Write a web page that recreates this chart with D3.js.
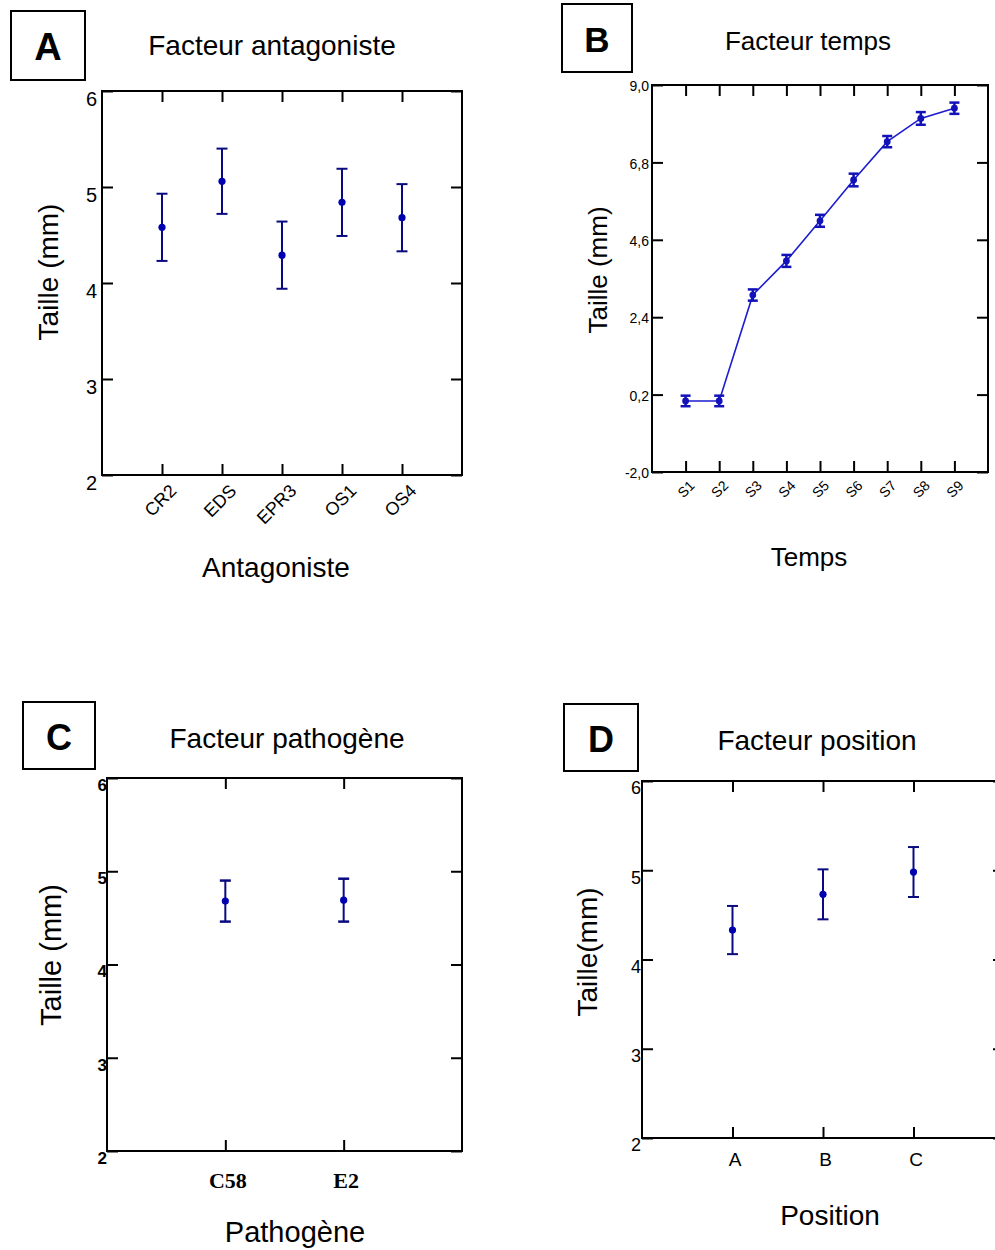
<!DOCTYPE html>
<html>
<head>
<meta charset="utf-8">
<script src="https://cdn.jsdelivr.net/npm/d3@7"></script>
<style>
  body { margin: 0; background: #fff; }
  svg { display: block; }
  text { font-family: "Liberation Sans", Arial, sans-serif; fill: #000; }
</style>
</head>
<body>
<script>
'use strict';

// --- data ---
const tailleTicks = [2, 3, 4, 5, 6];

const antagonistes = ["CR2", "EDS", "EPR3", "OS1", "OS4"];
const antagonisteMoy = [4.58, 5.06, 4.29, 4.84, 4.68];
const antagonisteErr = [0.35, 0.34, 0.35, 0.35, 0.35];

const temps = ["S1", "S2", "S3", "S4", "S5", "S6", "S7", "S8", "S9"];
const tempsMoy = [0.02, 0.02, 3.03, 4.0, 5.14, 6.3, 7.39, 8.05, 8.34];
const tempsErr = [0.15, 0.15, 0.16, 0.17, 0.17, 0.18, 0.16, 0.18, 0.16];
const tempsTicks = [-2.0, 0.2, 2.4, 4.6, 6.8, 9.0];

const pathogenes = ["C58", "E2"];
const pathogeneMoy = [4.68, 4.69];
const pathogeneErr = [0.22, 0.23];

const positions = ["A", "B", "C"];
const positionMoy = [4.33, 4.73, 4.98];
const positionErr = [0.27, 0.28, 0.28];

let svg = d3.select('body').append('svg')
  .attr('width', 995)
  .attr('height', 1250);

// draw one lettered panel with point + error bar plot
function drawPanel(p) {
  let g = svg.append('g');

  // letter box
  g.append('rect')
    .attr('x', p.box[0]).attr('y', p.box[1])
    .attr('width', p.box[2]).attr('height', p.box[3])
    .attr('fill', 'none').attr('stroke', '#000').attr('stroke-width', 2);
  g.append('text')
    .attr('x', p.box[0] + p.box[2] / 2)
    .attr('y', p.tagY)
    .attr('text-anchor', 'middle')
    .style('font-size', p.tagSize + 'px')
    .style('font-weight', 'bold')
    .text(p.tag);

  // title
  g.append('text')
    .attr('x', p.titleX).attr('y', p.titleY)
    .attr('text-anchor', 'middle')
    .style('font-size', p.titleSize + 'px')
    .text(p.title);

  let x = d3.scalePoint().domain(p.cats).range([p.l, p.r]).padding(1);
  let y = d3.scaleLinear().domain(p.yDomain).range([p.b, p.t]);

  // left axis with labels, ticks pointing inward
  let left = g.append('g')
    .attr('transform', 'translate(' + p.l + ',0)')
    .call(d3.axisLeft(y).tickValues(p.yTicks).tickSize(-p.tick)
      .tickPadding(p.yPad).tickFormat(p.yFormat));
  left.selectAll('text')
    .attr('dy', p.yDy)
    .style('font-size', p.yFont + 'px')
    .style('font-weight', p.yBold ? 'bold' : 'normal');

  // right axis, ticks only
  g.append('g')
    .attr('transform', 'translate(' + p.r + ',0)')
    .call(d3.axisRight(y).tickValues(p.yTicks).tickSize(-p.tick).tickFormat(''));

  // top axis, ticks only
  g.append('g')
    .attr('transform', 'translate(0,' + p.t + ')')
    .call(d3.axisTop(x).tickSize(-p.tick).tickFormat(''));

  // bottom axis
  let bottom = g.append('g')
    .attr('transform', 'translate(0,' + p.b + ')')
    .call(d3.axisBottom(x).tickSize(-p.tick).tickPadding(0));
  p.xLabelStyle(bottom.selectAll('text'), x);

  g.selectAll('.domain').remove();
  g.selectAll('.tick line').attr('stroke', '#000').attr('stroke-width', 2);
  g.selectAll('.tick text').style('fill', p.xColor ? null : '#000');

  // frame
  g.append('rect')
    .attr('x', p.l).attr('y', p.t)
    .attr('width', p.r - p.l).attr('height', p.b - p.t)
    .attr('fill', 'none').attr('stroke', '#000').attr('stroke-width', 2);

  let pts = p.cats.map((c, i) => ({ c: c, m: p.means[i], e: p.errs[i] }));

  // connecting line (time panel)
  if (p.line) {
    let line = d3.line().x(d => x(d.c)).y(d => y(d.m));
    g.append('path')
      .datum(pts)
      .attr('d', line)
      .attr('fill', 'none')
      .attr('stroke', p.lineColor)
      .attr('stroke-width', 1.6);
  }

  // error bars
  let bars = g.selectAll('.err').data(pts).enter().append('g');
  bars.append('line')
    .attr('x1', d => x(d.c)).attr('x2', d => x(d.c))
    .attr('y1', d => y(d.m + d.e)).attr('y2', d => y(d.m - d.e))
    .attr('stroke', p.barColor).attr('stroke-width', p.barWidth);
  bars.append('line')
    .attr('x1', d => x(d.c) - p.cap).attr('x2', d => x(d.c) + p.cap)
    .attr('y1', d => y(d.m + d.e)).attr('y2', d => y(d.m + d.e))
    .attr('stroke', p.barColor).attr('stroke-width', p.capWidth);
  bars.append('line')
    .attr('x1', d => x(d.c) - p.cap).attr('x2', d => x(d.c) + p.cap)
    .attr('y1', d => y(d.m - d.e)).attr('y2', d => y(d.m - d.e))
    .attr('stroke', p.barColor).attr('stroke-width', p.capWidth);
  bars.append('circle')
    .attr('cx', d => x(d.c)).attr('cy', d => y(d.m))
    .attr('r', p.dot)
    .attr('fill', p.dotColor);

  // axis titles
  g.append('text')
    .attr('transform', 'translate(' + p.yTitleX + ',' + p.yTitleY + ')rotate(-90)')
    .attr('text-anchor', 'middle')
    .style('font-size', p.axisSize + 'px')
    .text(p.yTitle);
  g.append('text')
    .attr('x', p.xTitleX).attr('y', p.xTitleY)
    .attr('text-anchor', 'middle')
    .style('font-size', p.axisSize + 'px')
    .text(p.xTitle);
}

// A - antagoniste
drawPanel({
  tag: 'A', box: [11, 11, 74, 69], tagY: 60, tagSize: 38,
  title: 'Facteur antagoniste', titleX: 272, titleY: 55, titleSize: 28,
  l: 102, t: 91, r: 462, b: 475, tick: 11,
  cats: antagonistes, means: antagonisteMoy, errs: antagonisteErr,
  yDomain: [2, 6], yTicks: tailleTicks, yFormat: d3.format('d'),
  yPad: 5, yDy: '0.72em', yFont: 20,
  xLabelStyle: function(sel, x) {
    sel.attr('y', null).attr('dy', null)
      .attr('text-anchor', 'end')
      .attr('transform', 'translate(15,17)rotate(-45)')
      .style('font-size', '18px');
  },
  barColor: '#0a0a80', dotColor: '#0000b0', barWidth: 2, capWidth: 2, cap: 5.5, dot: 3.6,
  yTitle: 'Taille (mm)', yTitleX: 58, yTitleY: 272,
  xTitle: 'Antagoniste', xTitleX: 276, xTitleY: 577, axisSize: 28
});

// B - temps
drawPanel({
  tag: 'B', box: [562, 4, 70, 68], tagY: 52, tagSize: 35,
  title: 'Facteur temps', titleX: 808, titleY: 50, titleSize: 26,
  l: 652, t: 85, r: 988, b: 472, tick: 11,
  cats: temps, means: tempsMoy, errs: tempsErr,
  yDomain: [-2, 9], yTicks: tempsTicks,
  yFormat: d => d.toFixed(1).replace('.', ','),
  yPad: 3, yDy: '0.4em', yFont: 14,
  xLabelStyle: function(sel, x) {
    sel.attr('y', null).attr('dy', '0.35em')
      .attr('text-anchor', 'middle')
      .attr('transform', 'translate(0,17)rotate(-45)')
      .style('font-size', '14px');
  },
  line: true, lineColor: '#1c1cd0',
  barColor: '#1212b8', dotColor: '#1212b8', barWidth: 2.5, capWidth: 2.5, cap: 5, dot: 3.4,
  yTitle: 'Taille (mm)', yTitleX: 607, yTitleY: 270,
  xTitle: 'Temps', xTitleX: 809, xTitleY: 566, axisSize: 26
});

// C - pathogène
drawPanel({
  tag: 'C', box: [23, 702, 72, 67], tagY: 750, tagSize: 36,
  title: 'Facteur pathogène', titleX: 287, titleY: 748, titleSize: 28,
  l: 107, t: 778, r: 462, b: 1151, tick: 11,
  cats: pathogenes, means: pathogeneMoy, errs: pathogeneErr,
  yDomain: [2, 6], yTicks: tailleTicks, yFormat: d3.format('d'),
  yPad: 0, yDy: '0.72em', yFont: 17, yBold: true,
  xLabelStyle: function(sel, x) {
    sel.attr('y', 37).attr('dy', null)
      .attr('x', 2)
      .attr('text-anchor', 'middle')
      .style('font-family', '"Liberation Serif", "Times New Roman", serif')
      .style('font-weight', 'bold')
      .style('fill', '#555')
      .style('font-size', '22px');
  },
  xColor: true,
  barColor: '#0a0a80', dotColor: '#0000b0', barWidth: 2, capWidth: 2.5, cap: 5.5, dot: 3.6,
  yTitle: 'Taille (mm)', yTitleX: 61, yTitleY: 955,
  xTitle: 'Pathogène', xTitleX: 295, xTitleY: 1242, axisSize: 29
});

// D - position
drawPanel({
  tag: 'D', box: [564, 704, 74, 67], tagY: 752, tagSize: 36,
  title: 'Facteur position', titleX: 817, titleY: 750, titleSize: 28,
  l: 642, t: 781, r: 1004, b: 1138, tick: 11,
  cats: positions, means: positionMoy, errs: positionErr,
  yDomain: [2, 6], yTicks: tailleTicks, yFormat: d3.format('d'),
  yPad: 1, yDy: '0.72em', yFont: 18,
  xLabelStyle: function(sel, x) {
    sel.attr('y', 28).attr('dy', null)
      .attr('x', 2)
      .attr('text-anchor', 'middle')
      .style('font-size', '19px');
  },
  barColor: '#0a0a80', dotColor: '#0000b0', barWidth: 2, capWidth: 2, cap: 5.5, dot: 3.6,
  yTitle: 'Taille(mm)', yTitleX: 597, yTitleY: 952,
  xTitle: 'Position', xTitleX: 830, xTitleY: 1225, axisSize: 28
});
</script>
</body>
</html>
